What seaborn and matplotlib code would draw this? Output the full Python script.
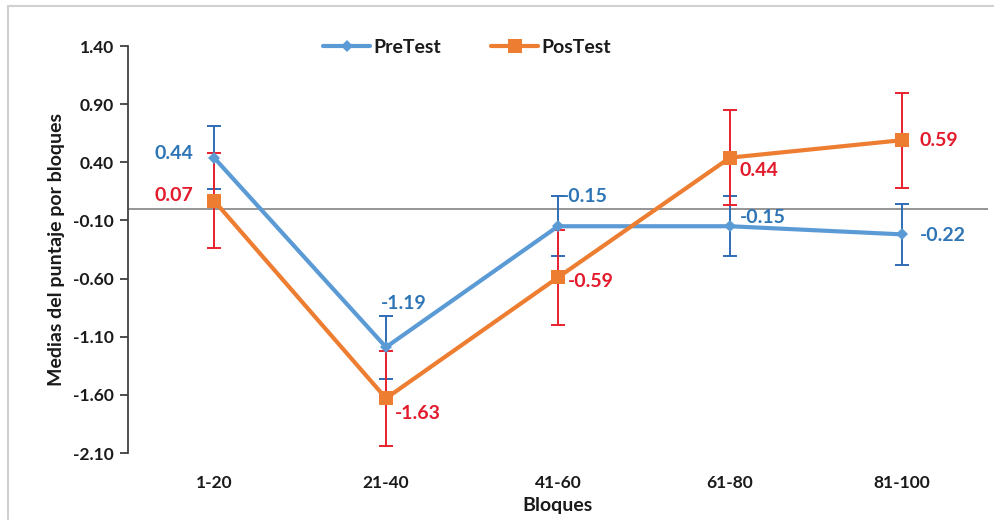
import matplotlib
matplotlib.use("Agg")
import matplotlib.pyplot as plt
from matplotlib.lines import Line2D
import seaborn as sns
import pandas as pd

categories = ["1-20", "21-40", "41-60", "61-80", "81-100"]
pre_values = [0.44, -1.19, -0.15, -0.15, -0.22]
pos_values = [0.07, -1.63, -0.59, 0.44, 0.59]
pre_err = [0.27, 0.27, 0.26, 0.26, 0.26]
pos_err = [0.41, 0.41, 0.41, 0.41, 0.41]
yticks = [1.40, 0.90, 0.40, -0.10, -0.60, -1.10, -1.60, -2.10]

series_names = ["PreTest", "PosTest"]
line_colors = {"PreTest": "#5B9BD5", "PosTest": "#ED7D31"}
err_colors = {"PreTest": "#2E6DB4", "PosTest": "#E8202F"}
label_colors = {"PreTest": "#2E75B6", "PosTest": "#E31A2C"}

df = pd.DataFrame({
    "Bloques": categories * 2,
    "valor": pre_values + pos_values,
    "serie": ["PreTest"] * 5 + ["PosTest"] * 5,
})

sns.set_style("white")
plt.rcParams["font.family"] = ["Lato", "DejaVu Sans"]
plt.rcParams["font.weight"] = "bold"

fig = plt.figure(figsize=(9.95, 5.21), dpi=100)
ax = fig.add_axes([128 / 995, 1 - 453 / 521, 860 / 995, 407 / 521])

# error bars first
for name, vals, errs in [("PreTest", pre_values, pre_err), ("PosTest", pos_values, pos_err)]:
    ax.errorbar(categories, vals, yerr=errs, fmt="none", ecolor=err_colors[name],
                elinewidth=1.4, capsize=5, capthick=1.4, zorder=2)

sns.lineplot(data=df, x="Bloques", y="valor", hue="serie", style="serie",
             palette=line_colors, markers={"PreTest": "D", "PosTest": "s"},
             dashes=False, linewidth=3, markersize=0, ax=ax, legend=False,
             sort=False, zorder=3)
ax.lines[-2].set_markersize(6.5)
ax.lines[-1].set_markersize(10)
for ln in ax.lines[-2:]:
    ln.set_markeredgewidth(0)

ax.axhline(0, color="#8C8C8C", linewidth=1.3, zorder=1)

ax.set_xlim(-0.5, 4.5)
ax.set_ylim(-2.10, 1.40)
ax.set_yticks(yticks)
ax.set_yticklabels([f"{v:.2f}" for v in yticks])
ax.tick_params(axis="y", direction="out", length=6, width=1.3, color="#404040",
               labelsize=12.5, pad=4, left=True)
ax.tick_params(axis="x", length=0, labelsize=12.5, pad=16)
for lbl in ax.get_xticklabels() + ax.get_yticklabels():
    lbl.set_fontweight("bold")
    lbl.set_color("#1A1A1A")

for s in ["top", "right", "bottom"]:
    ax.spines[s].set_visible(False)
ax.spines["left"].set_color("#404040")
ax.spines["left"].set_linewidth(1.3)

ax.set_xlabel("Bloques", fontsize=14, fontweight="bold", color="#1A1A1A", labelpad=4)
ax.set_ylabel("Medias del puntaje por bloques", fontsize=14, fontweight="bold",
              color="#1A1A1A", labelpad=6)

# data labels: offsets in pixels
pre_offsets = [(-21, 4, "right"), (18, 44, "center"), (4, 30, "left"), (10, 9, "left"), (18, -1, "left")]
pos_offsets = [(-21, 5, "right"), (9, -15, "left"), (10, -4, "left"), (10, -13, "left"), (18, 0, "left")]
for name, vals, offs in [("PreTest", pre_values, pre_offsets), ("PosTest", pos_values, pos_offsets)]:
    for cat, v, (dx, dy, ha) in zip(categories, vals, offs):
        ax.annotate(f"{v:.2f}", xy=(cat, v), xytext=(dx, dy), textcoords="offset pixels",
                    ha=ha, va="center", fontsize=14, fontweight="bold",
                    color=label_colors[name], zorder=5)

handles = [
    Line2D([0], [0], color=line_colors["PreTest"], lw=3, marker="D", markersize=6.5, markeredgewidth=0),
    Line2D([0], [0], color=line_colors["PosTest"], lw=3, marker="s", markersize=10, markeredgewidth=0),
]
leg = fig.legend(handles, series_names, loc="center", bbox_to_anchor=(467 / 995, 1 - 47 / 521),
                 ncol=2, frameon=False, fontsize=14, handlelength=2.4, columnspacing=2.6,
                 handletextpad=0.15)
for t in leg.get_texts():
    t.set_fontweight("bold")
    t.set_color("#1A1A1A")

# light border around the chart area
fig.add_artist(Line2D([8 / 995, 8 / 995], [2 / 521, 1 - 6 / 521], transform=fig.transFigure,
                      color="#D0D0D0", lw=1.5))
fig.add_artist(Line2D([8 / 995, 1], [1 - 6 / 521, 1 - 6 / 521], transform=fig.transFigure,
                      color="#D0D0D0", lw=1.5))

fig.savefig("out.png", dpi=100)
